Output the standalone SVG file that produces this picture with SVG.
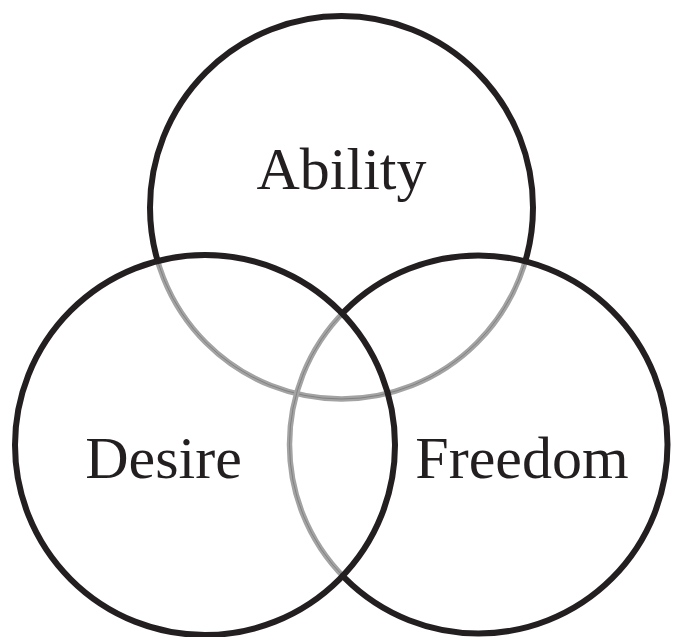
<svg xmlns="http://www.w3.org/2000/svg" width="673" height="637" viewBox="0 0 673 637">
  <style>
    .ring { fill: none; stroke: #231f20; stroke-width: 6; }
    .hid { fill: none; stroke: #a3a3a3; stroke-width: 5.5; }
    .hidline { fill: none; stroke: #777; stroke-width: 0.8; }
    .label { font-family: "Liberation Serif", "Times New Roman", serif; font-size: 60px; fill: #231f20; text-anchor: middle; }
  </style>
  <defs>
    <clipPath id="inLR">
      <circle cx="205" cy="445" r="190"/>
      <circle cx="478.5" cy="444.5" r="189"/>
    </clipPath>
    <clipPath id="inL">
      <circle cx="205" cy="445" r="190"/>
    </clipPath>
    <mask id="outLR" maskUnits="userSpaceOnUse" x="0" y="0" width="673" height="637">
      <rect x="0" y="0" width="673" height="637" fill="#fff"/>
      <circle cx="205" cy="445" r="190" fill="#000"/>
      <circle cx="478.5" cy="444.5" r="189" fill="#000"/>
    </mask>
    <mask id="outL" maskUnits="userSpaceOnUse" x="0" y="0" width="673" height="637">
      <rect x="0" y="0" width="673" height="637" fill="#fff"/>
      <circle cx="205" cy="445" r="190" fill="#000"/>
    </mask>
  </defs>
  <rect width="673" height="637" fill="#fff"/>

  <g id="hidden-arcs">
    <g clip-path="url(#inLR)">
      <circle class="hid" cx="341.5" cy="207.5" r="191.5"/>
      <circle class="hidline" cx="341.5" cy="207.5" r="191.5"/>
    </g>
    <g clip-path="url(#inL)">
      <circle class="hid" cx="478.5" cy="444.5" r="189"/>
      <circle class="hidline" cx="478.5" cy="444.5" r="189"/>
    </g>
  </g>

  <g id="ability">
    <circle class="ring" cx="341.5" cy="207.5" r="191.5" mask="url(#outLR)"/>
    <text class="label" x="341.5" y="189">Ability</text>
  </g>
  <g id="freedom">
    <circle class="ring" cx="478.5" cy="444.5" r="189" mask="url(#outL)"/>
    <text class="label" x="522" y="478">Freedom</text>
  </g>
  <g id="desire">
    <circle class="ring" cx="205" cy="445" r="190"/>
    <text class="label" x="163.5" y="478">Desire</text>
  </g>
</svg>
